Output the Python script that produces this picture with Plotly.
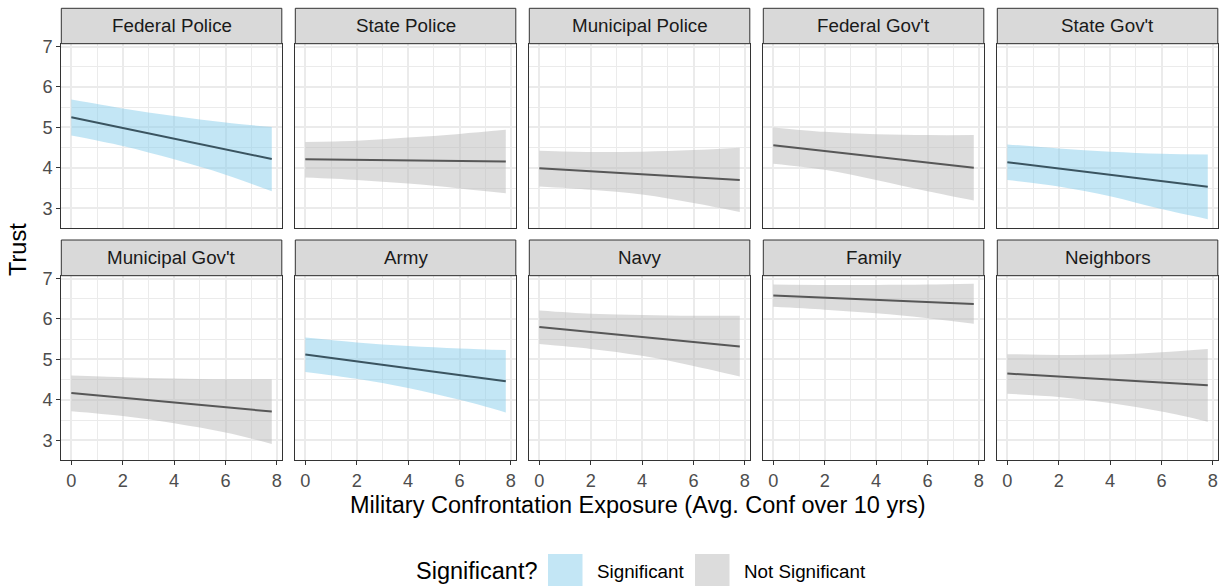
import plotly.graph_objects as go

# ---- data -------------------------------------------------------------
institutions = ["Federal Police", "State Police", "Municipal Police", "Federal Gov't", "State Gov't",
                "Municipal Gov't", "Army", "Navy", "Family", "Neighbors"]
significant = [True, False, False, False, True, False, True, False, False, False]

# exposure values at which the fitted line and its confidence band are given
exposure = [0, 2, 4, 6, 7.8]

fit_start = [5.25, 4.21, 3.99, 4.56, 4.14, 4.17, 5.12, 5.80, 6.58, 4.65]
fit_end = [4.22, 4.16, 3.70, 4.00, 3.53, 3.71, 4.46, 5.32, 6.37, 4.36]

ci_upper = [
    [5.69, 5.47, 5.28, 5.12, 5.01],
    [4.64, 4.67, 4.75, 4.84, 4.94],
    [4.42, 4.39, 4.40, 4.44, 4.50],
    [5.00, 4.89, 4.83, 4.81, 4.81],
    [4.58, 4.48, 4.40, 4.35, 4.33],
    [4.60, 4.56, 4.53, 4.51, 4.51],
    [5.54, 5.42, 5.33, 5.27, 5.23],
    [6.21, 6.13, 6.10, 6.08, 6.08],
    [6.85, 6.84, 6.84, 6.85, 6.87],
    [5.13, 5.11, 5.12, 5.18, 5.26],
]
ci_lower = [
    [4.80, 4.54, 4.21, 3.83, 3.42],
    [3.76, 3.70, 3.61, 3.49, 3.37],
    [3.54, 3.46, 3.34, 3.13, 2.91],
    [4.10, 3.95, 3.70, 3.42, 3.19],
    [3.70, 3.54, 3.30, 2.98, 2.73],
    [3.72, 3.60, 3.42, 3.19, 2.91],
    [4.69, 4.52, 4.29, 4.00, 3.69],
    [5.38, 5.26, 5.09, 4.84, 4.58],
    [6.30, 6.23, 6.14, 6.02, 5.88],
    [4.15, 4.07, 3.92, 3.71, 3.46],
]

x_ticks = [0, 2, 4, 6, 8]
y_ticks = [3, 4, 5, 6, 7]

legend_title = "Significant?"
legend_labels = ["Significant", "Not Significant"]

# ---- styling ----------------------------------------------------------
W, H = 1225, 586
FONT = "Liberation Sans, Arial, sans-serif"
FILL_SIG = "rgba(135,206,235,0.5)"
FILL_NS = "rgba(185,185,185,0.5)"
LINE_SIG = "#3a5460"
LINE_NS = "#575757"
BORDER = "#333333"
GRID = "#ebebeb"
TICK_SIZE = 18.2
STRIP_SIZE = 18.8
TITLE_SIZE = 23.5

X_RANGE = [-0.39, 8.19]
Y_RANGE = [2.52, 7.07]

col_left = [61.3 + k * 234 for k in range(5)]
panel_w = 220.5
rows = [  # strip top, strip bottom / plot top, plot bottom
    (8.3, 43.7, 227.7),
    (240.0, 275.7, 459.7),
]


def fx(px):
    return px / W


def fy(py):
    return 1 - py / H


fig = go.Figure()
layout = {}
shapes = []
annotations = []

for i, name in enumerate(institutions):
    r, c = divmod(i, 5)
    n = i + 1
    xa = "x" if n == 1 else f"x{n}"
    ya = "y" if n == 1 else f"y{n}"
    fill = FILL_SIG if significant[i] else FILL_NS
    lcol = LINE_SIG if significant[i] else LINE_NS

    fig.add_trace(go.Scatter(x=exposure, y=ci_upper[i], mode="lines", line=dict(width=0, shape="spline"),
                             xaxis=xa, yaxis=ya, showlegend=False, hoverinfo="skip"))
    fig.add_trace(go.Scatter(x=exposure, y=ci_lower[i], mode="lines", line=dict(width=0, shape="spline"),
                             fill="tonexty", fillcolor=fill,
                             xaxis=xa, yaxis=ya, showlegend=False, hoverinfo="skip"))
    fig.add_trace(go.Scatter(x=[exposure[0], exposure[-1]], y=[fit_start[i], fit_end[i]], mode="lines",
                             line=dict(color=lcol, width=2), xaxis=xa, yaxis=ya, showlegend=False))

    s_top, p_top, p_bot = rows[r]
    left = col_left[c]
    right = left + panel_w

    bottom_row = r == 1
    first_col = c == 0
    xkey = "xaxis" if n == 1 else f"xaxis{n}"
    ykey = "yaxis" if n == 1 else f"yaxis{n}"
    layout[xkey] = dict(
        domain=[fx(left), fx(right)], anchor=ya, range=X_RANGE, automargin=False,
        tickvals=x_ticks, showticklabels=bottom_row,
        ticks="outside" if bottom_row else "", ticklen=4, tickwidth=1, tickcolor=BORDER,
        tickfont=dict(family=FONT, size=TICK_SIZE, color="#4d4d4d"),
        showgrid=True, gridcolor=GRID, gridwidth=1.5,
        minor=dict(dtick=1, tick0=0, showgrid=True, gridcolor=GRID, gridwidth=0.8, ticks=""),
        showline=True, mirror=True, linecolor=BORDER, linewidth=1,
        zeroline=False, fixedrange=True,
    )
    layout[ykey] = dict(
        domain=[fy(p_bot), fy(p_top)], anchor=xa, range=Y_RANGE, automargin=False,
        tickvals=y_ticks, showticklabels=first_col,
        ticks="outside" if first_col else "", ticklen=4, tickwidth=1, tickcolor=BORDER,
        tickfont=dict(family=FONT, size=TICK_SIZE, color="#4d4d4d"),
        showgrid=True, gridcolor=GRID, gridwidth=1.5,
        minor=dict(dtick=0.5, tick0=0, showgrid=True, gridcolor=GRID, gridwidth=0.8, ticks=""),
        showline=True, mirror=True, linecolor=BORDER, linewidth=1,
        zeroline=False, fixedrange=True,
    )

    # facet strip
    shapes.append(dict(type="rect", xref="paper", yref="paper",
                       x0=fx(left), x1=fx(right), y0=fy(p_top), y1=fy(s_top),
                       fillcolor="#d9d9d9", line=dict(color=BORDER, width=1), layer="above"))
    annotations.append(dict(text=name, xref="paper", yref="paper",
                            x=fx((left + right) / 2), y=fy((s_top + p_top) / 2),
                            xanchor="center", yanchor="middle", showarrow=False,
                            font=dict(family=FONT, size=STRIP_SIZE, color="#1a1a1a")))

# axis titles
annotations.append(dict(text="Trust", xref="paper", yref="paper", x=fx(18), y=fy(250),
                        textangle=-90, xanchor="center", yanchor="middle", showarrow=False,
                        font=dict(family=FONT, size=TITLE_SIZE, color="black")))
annotations.append(dict(text="Military Confrontation Exposure (Avg. Conf over 10 yrs)",
                        xref="paper", yref="paper", x=fx(638), y=fy(505),
                        xanchor="center", yanchor="middle", showarrow=False,
                        font=dict(family=FONT, size=TITLE_SIZE, color="black")))

# legend drawn below the panels
leg_y = 571
annotations.append(dict(text=legend_title, xref="paper", yref="paper", x=fx(414), y=fy(leg_y),
                        xanchor="left", yanchor="middle", showarrow=False,
                        font=dict(family=FONT, size=TITLE_SIZE, color="black")))
key_specs = [(548, FILL_SIG, 595), (695, FILL_NS, 742)]
for (kx, kfill, tx), lab in zip(key_specs, legend_labels):
    shapes.append(dict(type="rect", xref="paper", yref="paper",
                       x0=fx(kx), x1=fx(kx + 34.5), y0=fy(587), y1=fy(554),
                       fillcolor=kfill, line=dict(width=0)))
    annotations.append(dict(text=lab, xref="paper", yref="paper", x=fx(tx), y=fy(leg_y),
                            xanchor="left", yanchor="middle", showarrow=False,
                            font=dict(family=FONT, size=STRIP_SIZE, color="black")))

fig.update_layout(
    width=W, height=H, autosize=False,
    margin=dict(l=0, r=0, t=0, b=0),
    paper_bgcolor="white", plot_bgcolor="white",
    shapes=shapes, annotations=annotations,
    showlegend=False,
    **layout,
)

fig.write_html("out.html")
